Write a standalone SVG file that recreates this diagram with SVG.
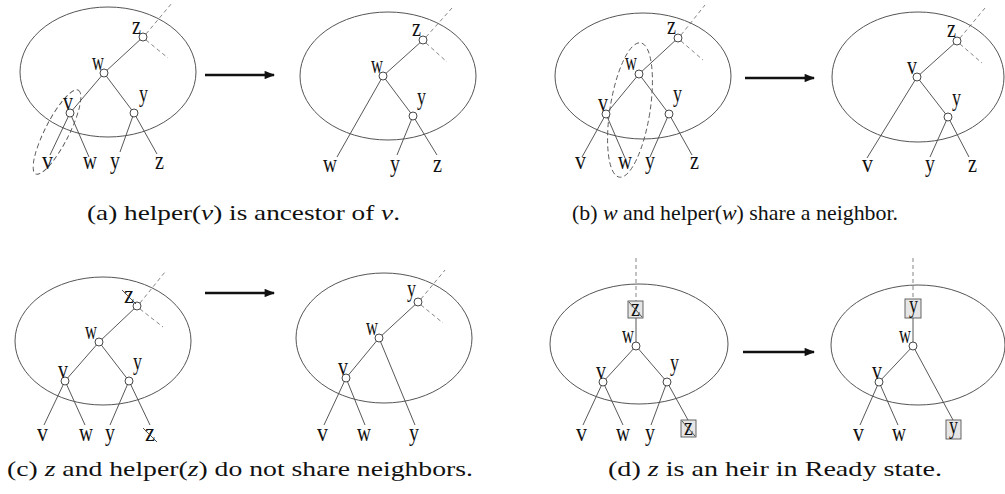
<svg xmlns="http://www.w3.org/2000/svg" width="1005" height="494" viewBox="0 0 1005 494">
<style>
.bg{fill:#fff}
.ell{fill:none;stroke:#555;stroke-width:1}
.e{stroke:#444;stroke-width:0.9;fill:none}
.d{stroke:#777;stroke-width:0.9;stroke-dasharray:4 3;fill:none}
.de{fill:none;stroke:#555;stroke-width:0.9;stroke-dasharray:5 3}
.n{fill:#fff;stroke:#333;stroke-width:0.9}
.lb{font-family:'Liberation Serif','Times New Roman',serif;font-size:25px;fill:#111}
.bx{fill:#e6e6e6;stroke:#555;stroke-width:0.9}
.ar{stroke:#111;stroke-width:2.6}
.cap{font-family:'Liberation Serif','Times New Roman',serif;font-size:21px;fill:#111}
.it{font-style:italic}
</style>
<defs>
<marker id="ah" viewBox="0 0 10 8" refX="9" refY="4" markerWidth="4.2" markerHeight="3.2" markerUnits="strokeWidth" orient="auto">
<path d="M0,0 L10,4 L0,8 Z" fill="#111"/>
</marker>
</defs>
<rect class="bg" x="0" y="0" width="1005" height="494"/>

<!-- ============ connectors ============ -->
<g id="connectors">
<!-- A1 -->
<line class="e" x1="143" y1="37" x2="104" y2="73"/>
<line class="e" x1="104" y1="73" x2="70" y2="113"/>
<line class="e" x1="104" y1="73" x2="134" y2="113"/>
<line class="e" x1="70" y1="113" x2="50" y2="155"/>
<line class="e" x1="70" y1="113" x2="89" y2="157"/>
<line class="e" x1="134" y1="113" x2="120" y2="152"/>
<line class="e" x1="134" y1="113" x2="157" y2="154"/>
<line class="d" x1="146" y1="34" x2="172" y2="3"/>
<line class="d" x1="146" y1="40" x2="168" y2="58"/>
<ellipse class="de" cx="57" cy="132" rx="47" ry="12" transform="rotate(-63 57 132)"/>
<!-- arrow a -->
<line class="ar" x1="205" y1="75" x2="274" y2="75" marker-end="url(#ah)"/>
<!-- A2 -->
<line class="e" x1="423" y1="40" x2="383" y2="76"/>
<line class="e" x1="383" y1="76" x2="413" y2="116"/>
<line class="e" x1="383" y1="76" x2="337" y2="157"/>
<line class="e" x1="413" y1="116" x2="397" y2="155"/>
<line class="e" x1="413" y1="116" x2="437" y2="155"/>
<line class="d" x1="426" y1="37" x2="452" y2="8"/>
<line class="d" x1="426" y1="43" x2="447" y2="62"/>
<!-- B1 -->
<line class="e" x1="678" y1="38" x2="639" y2="74"/>
<line class="e" x1="639" y1="74" x2="606" y2="114"/>
<line class="e" x1="639" y1="74" x2="669" y2="114"/>
<line class="e" x1="606" y1="114" x2="582" y2="157"/>
<line class="e" x1="606" y1="114" x2="625" y2="158"/>
<line class="e" x1="669" y1="114" x2="650" y2="157"/>
<line class="e" x1="669" y1="114" x2="692" y2="155"/>
<line class="d" x1="681" y1="35" x2="705" y2="5"/>
<line class="d" x1="681" y1="41" x2="703" y2="60"/>
<ellipse class="de" cx="630" cy="110" rx="20" ry="68" transform="rotate(9 630 110)"/>
<!-- arrow b -->
<line class="ar" x1="745" y1="78" x2="814" y2="78" marker-end="url(#ah)"/>
<!-- B2 -->
<line class="e" x1="957" y1="41" x2="917" y2="77"/>
<line class="e" x1="917" y1="77" x2="948" y2="117"/>
<line class="e" x1="917" y1="77" x2="867" y2="158"/>
<line class="e" x1="948" y1="117" x2="930" y2="157"/>
<line class="e" x1="948" y1="117" x2="969" y2="157"/>
<line class="d" x1="960" y1="38" x2="985" y2="8"/>
<line class="d" x1="960" y1="44" x2="982" y2="63"/>
<!-- C1 -->
<line class="e" x1="137" y1="306" x2="99" y2="342"/>
<line class="e" x1="99" y1="342" x2="65" y2="381"/>
<line class="e" x1="99" y1="342" x2="129" y2="381"/>
<line class="e" x1="65" y1="381" x2="44" y2="425"/>
<line class="e" x1="65" y1="381" x2="85" y2="425"/>
<line class="e" x1="129" y1="381" x2="110" y2="425"/>
<line class="e" x1="129" y1="381" x2="150" y2="425"/>
<line class="d" x1="140" y1="303" x2="165" y2="272"/>
<line class="d" x1="140" y1="309" x2="163" y2="327"/>
<!-- arrow c -->
<line class="ar" x1="205" y1="293" x2="274" y2="293" marker-end="url(#ah)"/>
<!-- C2 -->
<line class="e" x1="418" y1="302" x2="379" y2="338"/>
<line class="e" x1="379" y1="338" x2="346" y2="378"/>
<line class="e" x1="379" y1="338" x2="415" y2="425"/>
<line class="e" x1="346" y1="378" x2="324" y2="425"/>
<line class="e" x1="346" y1="378" x2="365" y2="425"/>
<line class="d" x1="421" y1="299" x2="445" y2="270"/>
<line class="d" x1="421" y1="305" x2="443" y2="323"/>
<!-- D1 -->
<line class="d" x1="636" y1="258" x2="636" y2="302"/>
<line class="e" x1="636" y1="318" x2="636" y2="346"/>
<line class="e" x1="636" y1="346" x2="603" y2="382"/>
<line class="e" x1="636" y1="346" x2="667" y2="382"/>
<line class="e" x1="603" y1="382" x2="583" y2="425"/>
<line class="e" x1="603" y1="382" x2="623" y2="425"/>
<line class="e" x1="667" y1="382" x2="651" y2="425"/>
<line class="e" x1="667" y1="382" x2="688" y2="420"/>
<!-- arrow d -->
<line class="ar" x1="743" y1="352" x2="814" y2="352" marker-end="url(#ah)"/>
<!-- D2 -->
<line class="d" x1="913" y1="258" x2="913" y2="299"/>
<line class="e" x1="913" y1="318" x2="913" y2="346"/>
<line class="e" x1="913" y1="346" x2="879" y2="382"/>
<line class="e" x1="913" y1="346" x2="953" y2="420"/>
<line class="e" x1="879" y1="382" x2="860" y2="425"/>
<line class="e" x1="879" y1="382" x2="898" y2="425"/>
</g>

<!-- ============ panel (a) left ============ -->
<g id="a-left">
<ellipse class="ell" cx="108" cy="72" rx="88" ry="65"/>
<g id="a1-z"><circle class="n" cx="143" cy="37" r="4"/><text class="lb" x="132" y="34" textLength="9" lengthAdjust="spacingAndGlyphs">z</text></g>
<g id="a1-w"><circle class="n" cx="104" cy="73" r="4"/><text class="lb" x="92" y="70" textLength="12" lengthAdjust="spacingAndGlyphs">w</text></g>
<g id="a1-v"><circle class="n" cx="70" cy="113" r="4"/><text class="lb" x="63" y="110" textLength="10" lengthAdjust="spacingAndGlyphs">v</text></g>
<g id="a1-y"><circle class="n" cx="134" cy="113" r="4"/><text class="lb" x="139" y="102" textLength="9" lengthAdjust="spacingAndGlyphs">y</text></g>
<g id="a1-leaves">
<text class="lb" x="42" y="169" textLength="11" lengthAdjust="spacingAndGlyphs">v</text>
<text class="lb" x="83" y="169" textLength="14" lengthAdjust="spacingAndGlyphs">w</text>
<text class="lb" x="110" y="169" textLength="10" lengthAdjust="spacingAndGlyphs">y</text>
<text class="lb" x="155" y="169" textLength="9" lengthAdjust="spacingAndGlyphs">z</text>
</g>
</g>

<!-- ============ panel (a) right ============ -->
<g id="a-right">
<ellipse class="ell" cx="388" cy="76" rx="88" ry="64"/>
<g id="a2-z"><circle class="n" cx="423" cy="40" r="4"/><text class="lb" x="412" y="36" textLength="9" lengthAdjust="spacingAndGlyphs">z</text></g>
<g id="a2-w"><circle class="n" cx="383" cy="76" r="4"/><text class="lb" x="371" y="73" textLength="12" lengthAdjust="spacingAndGlyphs">w</text></g>
<g id="a2-y"><circle class="n" cx="413" cy="116" r="4"/><text class="lb" x="417" y="105" textLength="9" lengthAdjust="spacingAndGlyphs">y</text></g>
<g id="a2-leaves">
<text class="lb" x="323" y="172" textLength="14" lengthAdjust="spacingAndGlyphs">w</text>
<text class="lb" x="390" y="172" textLength="10" lengthAdjust="spacingAndGlyphs">y</text>
<text class="lb" x="433" y="172" textLength="9" lengthAdjust="spacingAndGlyphs">z</text>
</g>
</g>

<!-- ============ panel (b) left ============ -->
<g id="b-left">
<ellipse class="ell" cx="643" cy="76" rx="88" ry="63"/>
<g id="b1-z"><circle class="n" cx="678" cy="38" r="4"/><text class="lb" x="667" y="34" textLength="9" lengthAdjust="spacingAndGlyphs">z</text></g>
<g id="b1-w"><circle class="n" cx="639" cy="74" r="4"/><text class="lb" x="625" y="70" textLength="12" lengthAdjust="spacingAndGlyphs">w</text></g>
<g id="b1-v"><circle class="n" cx="606" cy="114" r="4"/><text class="lb" x="598" y="111" textLength="10" lengthAdjust="spacingAndGlyphs">v</text></g>
<g id="b1-y"><circle class="n" cx="669" cy="114" r="4"/><text class="lb" x="673" y="102" textLength="9" lengthAdjust="spacingAndGlyphs">y</text></g>
<g id="b1-leaves">
<text class="lb" x="575" y="169" textLength="11" lengthAdjust="spacingAndGlyphs">v</text>
<text class="lb" x="618" y="169" textLength="14" lengthAdjust="spacingAndGlyphs">w</text>
<text class="lb" x="645" y="169" textLength="10" lengthAdjust="spacingAndGlyphs">y</text>
<text class="lb" x="690" y="169" textLength="9" lengthAdjust="spacingAndGlyphs">z</text>
</g>
</g>

<!-- ============ panel (b) right ============ -->
<g id="b-right">
<ellipse class="ell" cx="918" cy="77" rx="86" ry="65"/>
<g id="b2-z"><circle class="n" cx="957" cy="41" r="4"/><text class="lb" x="947" y="37" textLength="9" lengthAdjust="spacingAndGlyphs">z</text></g>
<g id="b2-v"><circle class="n" cx="917" cy="77" r="4"/><text class="lb" x="907" y="74" textLength="10" lengthAdjust="spacingAndGlyphs">v</text></g>
<g id="b2-y"><circle class="n" cx="948" cy="117" r="4"/><text class="lb" x="952" y="106" textLength="9" lengthAdjust="spacingAndGlyphs">y</text></g>
<g id="b2-leaves">
<text class="lb" x="862" y="172" textLength="11" lengthAdjust="spacingAndGlyphs">v</text>
<text class="lb" x="925" y="172" textLength="10" lengthAdjust="spacingAndGlyphs">y</text>
<text class="lb" x="968" y="172" textLength="9" lengthAdjust="spacingAndGlyphs">z</text>
</g>
</g>

<!-- ============ panel (c) left ============ -->
<g id="c-left">
<ellipse class="ell" cx="103" cy="341" rx="88" ry="64"/>
<g id="c1-z"><circle class="n" cx="137" cy="306" r="4"/><text class="lb" x="124" y="303" textLength="10" lengthAdjust="spacingAndGlyphs">z</text><line class="e" x1="122" y1="290" x2="136" y2="304"/></g>
<g id="c1-w"><circle class="n" cx="99" cy="342" r="4"/><text class="lb" x="85" y="339" textLength="12" lengthAdjust="spacingAndGlyphs">w</text></g>
<g id="c1-v"><circle class="n" cx="65" cy="381" r="4"/><text class="lb" x="58" y="378" textLength="10" lengthAdjust="spacingAndGlyphs">v</text></g>
<g id="c1-y"><circle class="n" cx="129" cy="381" r="4"/><text class="lb" x="133" y="370" textLength="9" lengthAdjust="spacingAndGlyphs">y</text></g>
<g id="c1-leaves">
<text class="lb" x="37" y="441" textLength="11" lengthAdjust="spacingAndGlyphs">v</text>
<text class="lb" x="79" y="441" textLength="14" lengthAdjust="spacingAndGlyphs">w</text>
<text class="lb" x="105" y="441" textLength="10" lengthAdjust="spacingAndGlyphs">y</text>
<text class="lb" x="145" y="441" textLength="10" lengthAdjust="spacingAndGlyphs">z</text>
<line class="e" x1="143" y1="428" x2="157" y2="442"/>
</g>
</g>

<!-- ============ panel (c) right ============ -->
<g id="c-right">
<ellipse class="ell" cx="384" cy="338" rx="88" ry="65"/>
<g id="c2-y"><circle class="n" cx="418" cy="302" r="4"/><text class="lb" x="407" y="297" textLength="9" lengthAdjust="spacingAndGlyphs">y</text></g>
<g id="c2-w"><circle class="n" cx="379" cy="338" r="4"/><text class="lb" x="366" y="335" textLength="12" lengthAdjust="spacingAndGlyphs">w</text></g>
<g id="c2-v"><circle class="n" cx="346" cy="378" r="4"/><text class="lb" x="338" y="375" textLength="10" lengthAdjust="spacingAndGlyphs">v</text></g>
<g id="c2-leaves">
<text class="lb" x="317" y="441" textLength="11" lengthAdjust="spacingAndGlyphs">v</text>
<text class="lb" x="357" y="441" textLength="14" lengthAdjust="spacingAndGlyphs">w</text>
<text class="lb" x="409" y="441" textLength="10" lengthAdjust="spacingAndGlyphs">y</text>
</g>
</g>

<!-- ============ panel (d) left ============ -->
<g id="d-left">
<ellipse class="ell" cx="639" cy="344" rx="89" ry="60"/>
<g id="d1-zbox"><rect class="bx" x="628" y="301" width="15" height="17"/><text class="lb" x="631" y="316" textLength="9" lengthAdjust="spacingAndGlyphs">z</text><line class="e" x1="629" y1="302" x2="642" y2="317"/></g>
<g id="d1-w"><circle class="n" cx="636" cy="346" r="4"/><text class="lb" x="622" y="343" textLength="12" lengthAdjust="spacingAndGlyphs">w</text></g>
<g id="d1-v"><circle class="n" cx="603" cy="382" r="4"/><text class="lb" x="596" y="379" textLength="10" lengthAdjust="spacingAndGlyphs">v</text></g>
<g id="d1-y"><circle class="n" cx="667" cy="382" r="4"/><text class="lb" x="670" y="371" textLength="9" lengthAdjust="spacingAndGlyphs">y</text></g>
<g id="d1-leaves">
<text class="lb" x="576" y="441" textLength="11" lengthAdjust="spacingAndGlyphs">v</text>
<text class="lb" x="616" y="441" textLength="14" lengthAdjust="spacingAndGlyphs">w</text>
<text class="lb" x="645" y="441" textLength="10" lengthAdjust="spacingAndGlyphs">y</text>
<rect class="bx" x="681" y="420" width="15" height="17"/>
<text class="lb" x="684" y="435" textLength="9" lengthAdjust="spacingAndGlyphs">z</text>
<line class="e" x1="682" y1="421" x2="695" y2="436"/>
</g>
</g>

<!-- ============ panel (d) right ============ -->
<g id="d-right">
<ellipse class="ell" cx="918" cy="345" rx="87" ry="60"/>
<g id="d2-ybox"><rect class="bx" x="905" y="299" width="16" height="19"/><text class="lb" x="909" y="313" textLength="9" lengthAdjust="spacingAndGlyphs">y</text></g>
<g id="d2-w"><circle class="n" cx="913" cy="346" r="4"/><text class="lb" x="899" y="343" textLength="12" lengthAdjust="spacingAndGlyphs">w</text></g>
<g id="d2-v"><circle class="n" cx="879" cy="382" r="4"/><text class="lb" x="872" y="379" textLength="10" lengthAdjust="spacingAndGlyphs">v</text></g>
<g id="d2-leaves">
<text class="lb" x="853" y="441" textLength="11" lengthAdjust="spacingAndGlyphs">v</text>
<text class="lb" x="892" y="441" textLength="14" lengthAdjust="spacingAndGlyphs">w</text>
<rect class="bx" x="946" y="420" width="15" height="19"/>
<text class="lb" x="949" y="434" textLength="9" lengthAdjust="spacingAndGlyphs">y</text>
</g>
</g>

<!-- ============ captions ============ -->
<g id="captions">
<text class="cap" x="87" y="220" textLength="313" lengthAdjust="spacingAndGlyphs">(a)  helper(<tspan class="it">v</tspan>) is ancestor of <tspan class="it">v</tspan>.</text>
<text class="cap" x="572" y="220" textLength="326" lengthAdjust="spacingAndGlyphs">(b)  <tspan class="it">w</tspan> and helper(<tspan class="it">w</tspan>) share a neighbor.</text>
<text class="cap" x="7" y="476" textLength="466" lengthAdjust="spacingAndGlyphs">(c)  <tspan class="it">z</tspan> and helper(<tspan class="it">z</tspan>) do not share neighbors.</text>
<text class="cap" x="608" y="476" textLength="334" lengthAdjust="spacingAndGlyphs">(d)  <tspan class="it">z</tspan> is an heir in Ready state.</text>
</g>
</svg>
